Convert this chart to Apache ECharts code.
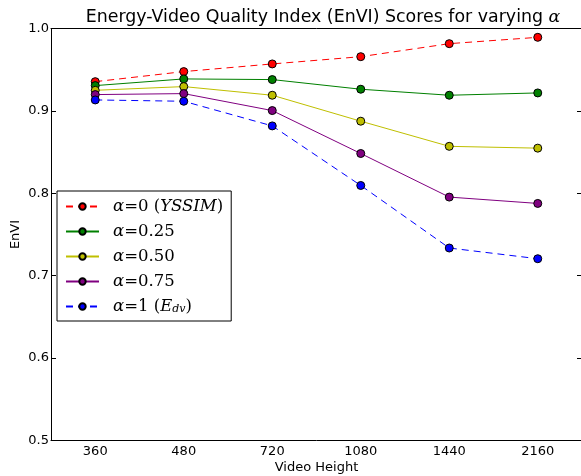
<!DOCTYPE html>
<html>
<head>
<meta charset="utf-8">
<script src="https://cdn.jsdelivr.net/npm/echarts@6/dist/echarts.min.js"></script>
<style>
html,body{margin:0;padding:0;background:#fff;}
#c{width:581px;height:476px;}
</style>
</head>
<body>
<div id="c"></div>
<script>
var categories = ['360', '480', '720', '1080', '1440', '2160'];
var yTicks = [0.5, 0.6, 0.7, 0.8, 0.9, 1.0];
var seriesNames = ['α=0 (YSSIM)', 'α=0.25', 'α=0.50', 'α=0.75', 'α=1 (Edv)'];
var alpha0 = [0.9355, 0.9477, 0.957, 0.9658, 0.9816, 0.9893];
var alpha025 = [0.9307, 0.9388, 0.938, 0.9263, 0.919, 0.9218];
var alpha050 = [0.925, 0.9295, 0.919, 0.8875, 0.857, 0.8548];
var alpha075 = [0.9198, 0.921, 0.9004, 0.8483, 0.7954, 0.7877];
var alpha1 = [0.9133, 0.9117, 0.8818, 0.8095, 0.7336, 0.7206];

var colors = ['#ff0000', '#008000', '#bfbf00', '#800080', '#0000ff'];
var dashed = [true, false, false, false, true];
var allData = [alpha0, alpha025, alpha050, alpha075, alpha1];

var richLabels = {};
richLabels[seriesNames[0]] = '{g|}{i|α}{n|=0 (}{i|YSSIM}{n|)}';
richLabels[seriesNames[1]] = '{g|}{i|α}{n|=0.25}';
richLabels[seriesNames[2]] = '{g|}{i|α}{n|=0.50}';
richLabels[seriesNames[3]] = '{g|}{i|α}{n|=0.75}';
richLabels[seriesNames[4]] = '{g|}{i|α}{n|=1 (}{i|E}{s|dv}{n|)}';

var series = allData.map(function (d, k) {
  return {
    name: seriesNames[k],
    type: 'line',
    data: d,
    symbol: 'circle',
    symbolSize: 8,
    animation: false,
    itemStyle: {color: colors[k], borderColor: '#000', borderWidth: 1},
    lineStyle: {color: colors[k], width: 1, type: dashed[k] ? [7, 5] : 'solid'},
    emphasis: {disabled: true}
  };
});

var LF = 'DejaVu Serif';
var chart = echarts.init(document.getElementById('c'), null, {renderer: 'canvas'});
var axisFont = {fontFamily: 'DejaVu Sans', fontSize: 13, color: '#000'};
chart.setOption({
  animation: false,
  backgroundColor: '#fff',
  title: {
    text: 'Energy-Video Quality Index (EnVI) Scores for varying {a|α}',
    left: 318, textAlign: 'center', top: 4,
    textStyle: {fontFamily: 'DejaVu Sans', fontSize: 17.4, fontWeight: 'normal', color: '#000',
      rich: {a: {fontFamily: LF, fontStyle: 'italic', fontSize: 17.4, color: '#000'}}}
  },
  grid: {left: 51, top: 28.5, width: 531, height: 412, containLabel: false, outerBoundsMode: 'none'},
  legend: {
    orient: 'vertical', left: 57, top: 191,
    data: seriesNames,
    itemWidth: 33, itemHeight: 8, itemGap: 8, itemTextGap: 5,
    padding: [7, 8, 6, 8],
    borderColor: '#000', borderWidth: 1, backgroundColor: '#fff',
    selectedMode: false,
    formatter: function (n) { return richLabels[n]; },
    textStyle: {
      fontFamily: LF, fontSize: 16.5, color: '#000', lineHeight: 17,
      rich: {
        g: {width: 9, lineHeight: 17},
        i: {fontFamily: LF, fontStyle: 'italic', fontSize: 16.5, color: '#000', lineHeight: 17},
        n: {fontFamily: LF, fontSize: 16.5, color: '#000', lineHeight: 17},
        s: {fontFamily: LF, fontStyle: 'italic', fontSize: 11, color: '#000', lineHeight: 17, verticalAlign: 'bottom'}
      }
    }
  },
  xAxis: [{
    type: 'category', data: categories, boundaryGap: true, position: 'bottom',
    name: 'Video Height', nameLocation: 'middle', nameGap: 21, nameMoveOverlap: false,
    nameTextStyle: {fontFamily: 'DejaVu Sans', fontSize: 13, color: '#000'},
    axisLine: {lineStyle: {color: '#000', width: 1}},
    axisTick: {inside: true, alignWithLabel: true, length: 5, lineStyle: {color: '#000'}},
    axisLabel: Object.assign({margin: 5}, axisFont),
    splitLine: {show: false}
  }, {
    type: 'category', data: categories, boundaryGap: true, position: 'top',
    axisLine: {lineStyle: {color: '#000', width: 1}},
    axisTick: {inside: true, alignWithLabel: true, length: 5, lineStyle: {color: '#000'}},
    axisLabel: {show: false}, splitLine: {show: false}
  }],
  yAxis: [{
    type: 'value', min: 0.5, max: 1.0, interval: 0.1, position: 'left',
    name: 'EnVI', nameLocation: 'middle', nameGap: 29, nameRotate: 90, nameMoveOverlap: false,
    nameTextStyle: {fontFamily: 'DejaVu Sans', fontSize: 13, color: '#000'},
    axisLine: {show: true, lineStyle: {color: '#000', width: 1}},
    axisTick: {show: true, inside: true, length: 5, lineStyle: {color: '#000'}},
    axisLabel: Object.assign({margin: 2, formatter: function (v) { return v.toFixed(1); }}, axisFont),
    splitLine: {show: false}
  }, {
    type: 'value', min: 0.5, max: 1.0, interval: 0.1, position: 'right',
    axisLine: {show: true, lineStyle: {color: '#000', width: 1}},
    axisTick: {show: true, inside: true, length: 5, lineStyle: {color: '#000'}},
    axisLabel: {show: false}, splitLine: {show: false}
  }],
  series: series
});
</script>
</body>
</html>
